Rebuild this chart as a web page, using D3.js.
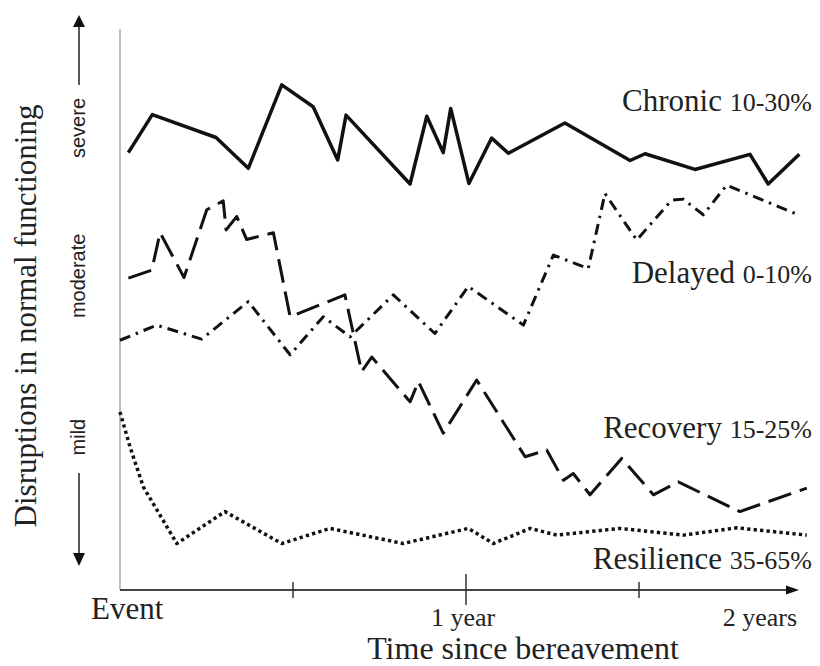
<!DOCTYPE html>
<html>
<head>
<meta charset="utf-8">
<script src="https://cdn.jsdelivr.net/npm/d3@7"></script>
<style>
  body { margin: 0; background: #fff; }
  svg { display: block; }
</style>
</head>
<body>
<div id="chart"></div>
<script>
// months since the event
let chronicT  = [0.29, 1.12, 3.33, 4.45, 5.61, 6.70, 7.55, 7.84, 10.06, 10.64, 11.21, 11.47, 12.10, 12.89, 13.47, 15.43, 17.69, 18.21, 19.94, 21.85, 22.48, 23.56]
let chronicV  = [78.1, 84.9, 80.8, 75.3, 90.2, 86.3, 76.8, 84.8, 72.5, 84.6, 78.1, 86.0, 72.6, 80.7, 78.0, 83.4, 76.7, 77.9, 75.1, 77.8, 72.5, 77.8]

let delayedT  = [0, 1.27, 2.83, 4.45, 5.90, 7.05, 7.98, 9.48, 10.92, 12.08, 13.99, 15.03, 16.24, 16.82, 17.92, 19.13, 19.53, 20.23, 21.04, 23.53]
let delayedV  = [44.6, 47.3, 44.8, 51.5, 42.0, 48.8, 45.2, 52.7, 45.8, 54.2, 47.3, 59.8, 57.4, 70.8, 62.5, 69.6, 69.8, 67.0, 72.3, 67.0]

let recoveryT = [0.29, 1.10, 1.39, 2.22, 3.01, 3.58, 3.68, 4.05, 4.39, 5.32, 5.90, 7.80, 8.38, 8.73, 10.06, 10.35, 11.21, 12.37, 14.05, 14.80, 15.38, 15.72, 16.30, 17.40, 18.50, 19.36, 21.50, 23.82]
let recoveryV = [55.7, 57.1, 63.8, 55.8, 67.9, 69.5, 64.3, 66.7, 62.6, 63.8, 48.8, 52.7, 39.0, 41.6, 33.6, 37.2, 28.0, 37.5, 23.8, 25.0, 19.6, 20.8, 17.0, 23.5, 17.0, 19.3, 14.0, 18.2]

let resilT    = [0, 0.35, 0.81, 1.97, 3.64, 5.61, 7.28, 9.82, 12.08, 12.95, 14.22, 15.15, 17.34, 19.54, 21.39, 23.82]
let resilV    = [31.8, 25.5, 18.4, 8.3, 14.0, 8.3, 11.0, 8.3, 11.0, 8.3, 11.0, 9.8, 11.0, 9.8, 11.1, 9.8]

let seriesNames = ["Chronic ", "Delayed ", "Recovery ", "Resilience "]
let seriesPcts  = ["10-30%", "0-10%", "15-25%", "35-65%"]
let labelLevel  = [85.5, 54.8, 27.1, 3.8]   // where each label sits on the y scale

let tickMonths  = [6, 12, 18]
let xLabels     = ["Event", "1 year", "2 years"]
let xLabelMonth = [0, 12, 24]
let severity    = ["severe", "moderate", "mild"]
let severityLvl = [82.5, 56.1, 27.3]

const W = 820, H = 666
const serif = "'Liberation Serif', 'Times New Roman', serif"
const sans = "'Liberation Sans', Arial, sans-serif"

let svg = d3.select("#chart").append("svg")
  .attr("width", W)
  .attr("height", H)

let x = d3.scaleLinear().domain([0, 24]).range([120, 812])
let y = d3.scaleLinear().domain([0, 100]).range([590, 30])

// axes
svg.append("line")
  .attr("x1", x(0)).attr("x2", x(0))
  .attr("y1", 29).attr("y2", y(0))
  .attr("stroke", "#aaa").attr("stroke-width", 1.5)

svg.append("line")
  .attr("x1", x(0)).attr("x2", 787)
  .attr("y1", y(0)).attr("y2", y(0))
  .attr("stroke", "#444").attr("stroke-width", 2)
svg.append("path")
  .attr("d", `M799,${y(0)} L786,${y(0) - 4.5} L786,${y(0) + 4.5} Z`)
  .attr("fill", "#111")

svg.selectAll(".tick")
  .data(tickMonths)
  .join("line")
  .attr("class", "tick")
  .attr("x1", d => x(d)).attr("x2", d => x(d))
  .attr("y1", d => d == 12 ? y(0) - 16 : y(0) - 8)
  .attr("y2", d => d == 12 ? y(0) + 15 : y(0) + 8)
  .attr("stroke", "#333").attr("stroke-width", 1.5)

svg.selectAll(".xlab")
  .data(xLabels)
  .join("text")
  .attr("class", "xlab")
  .attr("x", (d, i) => i == 0 ? x(xLabelMonth[i]) - 29 : i == 1 ? x(xLabelMonth[i]) - 3 : x(xLabelMonth[i]) - 15)
  .attr("y", (d, i) => i == 0 ? 619 : 626)
  .attr("text-anchor", (d, i) => i == 0 ? "start" : i == 1 ? "middle" : "end")
  .attr("font-family", serif)
  .attr("font-size", (d, i) => i == 0 ? 31 : 26)
  .attr("fill", "#222")
  .text(d => d)

svg.append("text")
  .attr("x", 523).attr("y", 659)
  .attr("text-anchor", "middle")
  .attr("font-family", serif).attr("font-size", 32)
  .attr("fill", "#222")
  .text("Time since bereavement")

// y title and severity scale
svg.append("text")
  .attr("transform", "translate(36,316) rotate(-90)")
  .attr("text-anchor", "middle")
  .attr("font-family", serif).attr("font-size", 31)
  .attr("fill", "#222")
  .text("Disruptions in normal functioning")

svg.selectAll(".sev")
  .data(severity)
  .join("text")
  .attr("class", "sev")
  .attr("transform", (d, i) => `translate(85,${y(severityLvl[i])}) rotate(-90)`)
  .attr("text-anchor", "middle")
  .attr("font-family", sans).attr("font-size", 20)
  .attr("fill", "#222")
  .text(d => d)

svg.append("line").attr("x1", 79).attr("x2", 79).attr("y1", 85).attr("y2", 26)
  .attr("stroke", "#222").attr("stroke-width", 1.5)
svg.append("path").attr("d", "M79,15 L73,27 L85,27 Z").attr("fill", "#111")
svg.append("line").attr("x1", 79).attr("x2", 79).attr("y1", 473).attr("y2", 554)
  .attr("stroke", "#222").attr("stroke-width", 1.5)
svg.append("path").attr("d", "M79,566 L73,553 L85,553 Z").attr("fill", "#111")

// lines
let line = d3.line()
  .x(d => x(d[0]))
  .y(d => y(d[1]))

let series = [
  {t: chronicT, v: chronicV, dash: null, w: 3.5},
  {t: delayedT, v: delayedV, dash: "11,6,2.5,6", w: 3},
  {t: recoveryT, v: recoveryV, dash: "24,9", w: 3},
  {t: resilT, v: resilV, dash: "3.3,3.2", w: 3.5}
]

series.forEach(s => {
  let pts = s.t.map((t, i) => [t, s.v[i]])
  svg.append("path")
    .datum(pts)
    .attr("fill", "none")
    .attr("stroke", "#111")
    .attr("stroke-width", s.w)
    .attr("stroke-linejoin", "round")
    .attr("stroke-dasharray", s.dash)
    .attr("d", line)
})

// series labels
let labs = svg.selectAll(".slab")
  .data(seriesNames)
  .join("text")
  .attr("class", "slab")
  .attr("x", 812)
  .attr("y", (d, i) => y(labelLevel[i]))
  .attr("text-anchor", "end")
  .attr("font-family", serif)
  .attr("fill", "#222")

labs.append("tspan").attr("font-size", 31).text(d => d)
labs.append("tspan").attr("font-size", 26).text((d, i) => seriesPcts[i])
</script>
</body>
</html>
